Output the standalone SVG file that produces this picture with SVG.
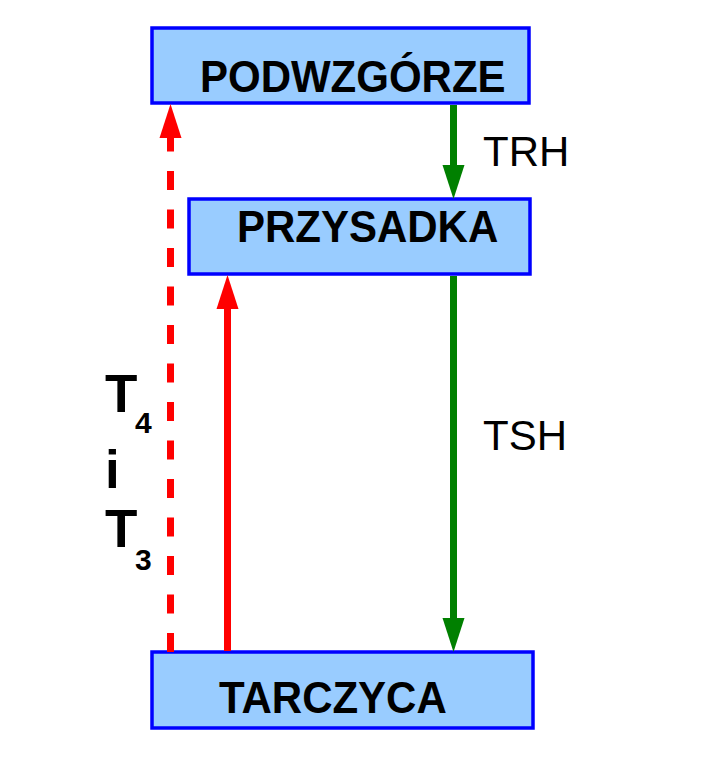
<svg xmlns="http://www.w3.org/2000/svg" width="719" height="783" viewBox="0 0 719 783">
<style>
.box{fill:#99ccff;stroke:#0000ff;stroke-width:3.5}
.bt{font-family:"Liberation Sans",Arial,sans-serif;font-weight:bold;font-size:42px;fill:#000}
.lt{font-family:"Liberation Sans",Arial,sans-serif;font-size:42px;fill:#000}
.ht{font-family:"Liberation Sans",Arial,sans-serif;font-weight:bold;fill:#000}
.g{stroke:#008000;stroke-width:7;fill:none}
.r{stroke:#ff0000;stroke-width:7;fill:none}
</style>
<rect width="719" height="783" fill="#fff"/>
<g id="podwzgorze">
<rect class="box" x="152" y="28" width="377" height="75"/>
<text class="bt" transform="translate(200,92) scale(1,1.05)">PODWZGÓRZE</text>
</g>
<g id="przysadka">
<rect class="box" x="189" y="199" width="341" height="75"/>
<text class="bt" transform="translate(237,242) scale(1,1.04)">PRZYSADKA</text>
</g>
<g id="tarczyca">
<rect class="box" x="152" y="652" width="381" height="76"/>
<text class="bt" transform="translate(219,713) scale(1,1.04)">TARCZYCA</text>
</g>
<g id="connectors">
<line class="g" x1="453.5" y1="105" x2="453.5" y2="167"/>
<polygon points="442.5,165 464.5,165 453.5,199" fill="#008000"/>
<line class="g" x1="453.5" y1="276" x2="453.5" y2="620"/>
<polygon points="442.5,618 464.5,618 453.5,652" fill="#008000"/>
<line class="r" x1="227.5" y1="651" x2="227.5" y2="306"/>
<polygon points="216.5,309 238.5,309 227.5,275" fill="#ff0000"/>
<line class="r" x1="170.5" y1="652" x2="170.5" y2="138" stroke-dasharray="19 19.5"/>
<polygon points="159.5,138 181.5,138 170.5,104" fill="#ff0000"/>
</g>
<g id="labels">
<text class="lt" transform="translate(483,166) scale(1,1.03)">TRH</text>
<text class="lt" transform="translate(483,450) scale(1,1.03)">TSH</text>
<text class="ht" x="105" y="412" font-size="53">T</text>
<text class="ht" x="135" y="433" font-size="30">4</text>
<text class="ht" x="105" y="488" font-size="53">i</text>
<text class="ht" x="105" y="547" font-size="53">T</text>
<text class="ht" x="135" y="570" font-size="30">3</text>
</g>
</svg>
